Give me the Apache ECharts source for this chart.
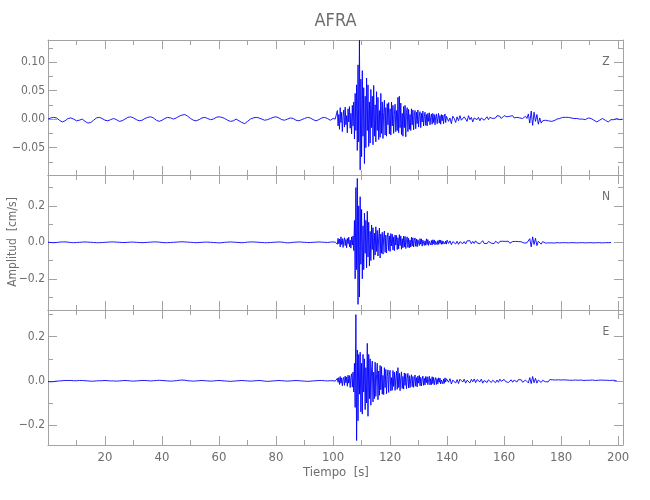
<!DOCTYPE html>
<html><head><meta charset="utf-8">
<script src="https://cdn.jsdelivr.net/npm/echarts@6/dist/echarts.min.js"></script>
<style>html,body{margin:0;padding:0;background:#fff}#c{width:650px;height:500px}</style>
</head><body><div id="c"></div>
<script>
// ---- data ----
const stationName = 'AFRA';
const componentNames = ['Z', 'N', 'E'];
const xAxisTitle = 'Tiempo  [s]';
const yAxisTitle = 'Amplitud  [cm/s]';
const timeMin = 0, timeMax = 201.7;
// each trace = three sampled segments: quiet (0-99 s, 1 s), strong (100-139.75 s, 0.25 s), tail (140 s on, 0.5 s)
const segmentStart = [0, 100, 140];
const segmentStep = [1, 0.25, 0.5];

const zQuiet = [
0,.002,.003,.002,-.002,-.005,-.003,.001,.002,0,
-.003,-.002,0,-.004,-.007,-.006,-.002,.002,.003,.001,
-.002,-.003,-.001,.001,-.001,-.004,-.003,0,.003,.004,
.002,-.001,-.003,-.002,.001,.003,.004,.002,-.002,-.004,
-.002,.001,.003,.002,0,.002,.005,.007,.008,.005,
.001,-.002,-.003,-.001,.002,.003,.001,-.001,0,.003,
.004,.003,.001,-.002,-.004,-.003,0,-.003,-.006,-.008,
-.004,0,.002,.003,.002,0,-.002,-.001,.001,.003,
.004,.002,-.001,-.002,0,.002,.001,-.002,-.003,-.001,
.001,.003,.002,-.001,-.003,-.001,.002,.003,.001,-.002];
const zStrong = [
.001,-.001,.002,0,.003,-.002,.015,-.012,.008,-.018,
.020,-.006,.012,-.022,.004,.016,-.014,.021,-.010,.006,
-.024,.018,-.005,.022,-.016,.010,-.026,.024,-.012,.030,
-.035,.045,-.020,.060,-.055,.095,-.040,.138,-.089,.070,
-.066,.085,-.030,.055,-.078,.040,-.050,.072,-.020,.060,
-.048,.030,-.042,.052,-.015,.040,-.045,.059,-.030,.025,
-.040,.048,-.020,.038,-.036,.015,-.032,.045,-.025,.030,
-.034,.012,.033,-.028,.020,-.030,.027,-.010,.029,-.026,
.018,-.028,.030,-.012,.024,-.025,.008,.026,-.022,.015,
-.020,.038,-.024,.040,-.015,.028,-.027,.010,-.030,.022,
-.015,.024,-.031,.012,.020,-.022,.017,-.018,.008,-.020,
.018,-.010,.016,-.019,.006,.015,-.017,.012,-.008,.016,
-.014,.006,.013,-.015,.010,-.005,.014,-.012,.004,.012,
-.011,.008,-.012,.010,-.004,.011,-.010,.003,.009,-.009,
.010,-.006,.008,-.010,.004,.009,-.008,.002,.010,-.007,
.006,-.009,.008,-.003,.007,-.008,.004,.009,-.006,.005];
const zTail = [
.007,-.004,.002,-.008,.005,.001,-.006,.004,-.003,.006,
-.002,-.005,.004,.001,-.004,.006,-.001,.003,-.005,.002,
.004,-.001,.003,-.003,.002,.005,-.002,.001,.004,-.001,
.003,.006,.001,.004,.002,.006,.003,.005,.001,.004,
.006,.003,.004,.001,.005,.003,.006,.002,.004,.003,
.004,.002,.005,.001,.003,.005,.001,.009,-.007,.014,
-.011,.012,-.004,.008,-.009,.002,-.007,-.003,-.005,-.002,
-.004,-.003,-.001,-.004,-.002,-.003,-.001,0,-.002,.001,
.002,.003,.004,.003,.002,.003,.001,.002,0,.001,
.002,.001,.002,0,-.001,0,-.002,-.001,.001,.002,
.003,.001,-.001,-.002,-.003,-.005,-.004,-.002,0,.001,
0,-.002,-.004,-.005,-.003,-.001,0,-.001,0,.001,
0,-.001,0,0];

const nQuiet = [
0,-.001,-.002,-.001,.001,.002,.002,.001,-.001,-.002,
-.001,0,.001,.002,.001,0,-.001,-.002,-.002,-.001,
0,.001,.002,.002,.001,0,-.001,-.001,0,.001,
.001,0,-.001,-.002,-.001,0,.001,.002,.002,.001,
-.001,-.002,-.002,-.001,0,.001,.002,.003,.002,.001,
0,-.001,-.002,-.001,0,.001,.001,0,-.001,-.002,
-.003,-.002,0,.001,.002,.001,0,-.001,-.002,-.001,
.001,.002,.002,.001,0,-.001,-.002,-.002,-.001,0,
.001,.002,.001,-.001,-.003,-.002,0,.001,.002,.001,
0,-.001,-.001,0,.001,.002,.001,0,-.001,.001];
const nStrong = [
.002,-.002,.003,.001,-.004,.006,-.010,.022,-.008,.018,
-.025,.030,-.012,.020,-.028,.010,.025,-.018,.015,-.030,
.022,-.008,.028,-.024,.012,-.032,.030,-.015,.035,-.045,
.120,-.200,.300,-.150,.350,-.340,.200,-.300,.250,-.120,
.180,-.200,.090,-.150,.160,-.060,.120,-.140,.170,-.080,
.110,-.130,.060,-.100,.095,-.040,.080,-.095,.050,-.070,
.085,-.050,.065,-.075,.030,.078,-.086,.045,-.060,.055,
-.065,.030,.062,-.055,.040,-.058,.025,.052,-.045,.035,
-.050,.048,-.020,.045,-.042,.030,-.046,.040,-.015,.038,
-.040,.025,-.036,.042,-.018,.035,-.038,.020,-.030,.034,
-.025,.032,-.034,.015,.030,-.028,.022,-.030,.012,-.026,
.028,-.020,.025,-.026,.010,.024,-.022,.018,-.024,.014,
.022,-.018,.020,-.010,.019,-.021,.012,.018,-.017,.008,
-.016,.019,-.012,.015,-.017,.006,.016,-.014,.010,-.015,
.014,-.008,.013,-.014,.005,.012,-.013,.009,-.011,.013,
-.006,.012,-.011,.008,-.010,.004,.011,-.009,.007,-.010];
const nTail = [
.012,-.006,.008,-.013,.004,.010,-.009,.006,-.011,.003,
.010,-.007,.004,-.009,.008,-.002,.009,-.008,.005,-.006,
.008,-.003,.007,-.008,.002,.009,-.006,.004,-.007,.005,
.006,-.005,.002,-.007,.006,.001,-.006,.005,-.003,.006,
-.004,.005,-.002,.006,-.005,.001,.004,-.004,.005,-.002,
.004,-.004,.003,.001,-.004,.005,-.003,-.008,.020,-.025,
.030,-.012,.022,-.018,.006,.012,-.010,.004,.005,-.004,
.004,-.003,.004,-.003,.003,-.004,.003,-.002,.003,-.003,
.003,-.002,.003,-.002,.002,-.003,.002,-.002,.003,-.002,
.002,-.003,.002,-.002,.003,-.002,.002,-.003,.002,-.002,
.003,-.002,.002,-.003,.002,-.002,.003,-.002,.002,-.003,
.002,-.002,.003,-.002,.002,-.001];

const eQuiet = [
-.003,-.004,-.003,-.001,0,.001,.002,.002,.002,.001,
.001,.002,.002,.001,0,-.001,-.001,0,.001,.001,
.002,.001,0,0,-.001,0,.001,.002,.001,0,
-.001,0,.001,.002,.002,.001,0,.001,.002,.003,
.002,.001,0,-.001,0,.001,.003,.004,.003,.001,
0,-.001,0,.001,.002,.001,0,-.001,0,.001,
.002,.001,0,-.001,-.002,-.001,0,.001,.002,.001,
0,-.001,0,.001,.002,.001,-.001,-.002,-.001,0,
.001,.002,.001,0,-.001,0,.001,.002,.001,0,
-.001,-.002,-.001,0,.001,.002,.002,.001,0,.001];
const eStrong = [
.001,-.002,.003,-.001,.002,-.005,.012,-.006,.015,-.016,
.020,-.010,.014,-.022,.006,.016,-.020,.022,-.008,.018,
-.024,.026,-.010,.024,-.030,.015,.032,-.028,.040,-.050,
.080,-.120,.300,-.270,.140,-.180,.120,-.060,.130,-.140,
.080,-.150,.120,-.050,.100,-.130,.060,-.100,.170,-.160,
.120,-.080,.100,-.110,.050,.090,-.095,.040,-.080,.085,
-.070,.030,.080,-.085,.045,-.065,.070,-.040,.065,-.060,
.025,-.062,.060,-.030,.052,-.058,.020,.050,-.052,.030,
.048,-.045,.015,-.042,.047,-.025,.040,-.043,.012,.044,
-.038,.060,-.030,.035,-.044,.015,.041,-.034,.020,-.037,
.036,-.020,.033,-.035,.012,.034,-.032,.024,-.030,.010,
.028,-.026,.020,-.029,.008,.027,-.024,.015,-.027,.022,
-.010,.025,-.022,.016,-.023,.008,.022,-.020,.012,-.018,
.020,-.008,.019,-.017,.006,.021,-.018,.010,-.017,.019,
-.012,.016,-.018,.005,.015,-.016,.010,-.013,.014,-.006,
.013,-.014,.004,.012,-.013,.009,-.011,.014,-.005,.010];
const eTail = [
.013,-.006,.010,-.014,.004,.012,-.010,.006,-.012,.008,
.011,-.005,.008,-.010,.003,.011,-.009,.007,-.004,.009,
-.008,.006,.010,-.004,.008,-.010,.002,.011,-.007,.005,
.008,-.007,.003,.009,-.008,.004,-.006,.008,-.002,-.007,
.007,-.003,.006,-.007,.002,.005,-.006,.004,.006,-.005,
.006,-.002,.005,-.006,.003,.004,-.005,-.009,.015,-.012,
.020,-.008,.012,-.010,.004,.007,-.007,.003,.006,-.004,
.005,-.004,.006,-.003,.005,-.004,.004,-.003,.005,-.003,
.004,-.002,.005,-.003,.004,-.002,.003,-.004,.003,-.002,
.004,-.003,.003,-.002,.004,-.003,.002,-.003,.003,-.002,
.003,-.002,.004,-.003,.002,-.003,.003,-.002,.004,-.002,
.003,-.002,.003,-.001,.002,-.002,.003,-.001,.002,0];

// axis ranges per panel (Z, N, E) and label steps
const yMins = [-0.098, -0.371, -0.29];
const yMaxs = [0.1386, 0.369, 0.321];
const ySplitNumbers = [5, 4, 3];
const yLabelSteps = [0.05, 0.2, 0.2];
const yLabelDecimals = [2, 1, 1];
const xLabelStep = 20;

// ---- build ----
function buildTrace(parts) {
  const out = [];
  parts.forEach((vals, k) => {
    vals.forEach((v, i) => out.push([+(segmentStart[k] + i * segmentStep[k]).toFixed(3), v]));
  });
  return out;
}
const traces = [
  buildTrace([zQuiet, zStrong, zTail]),
  buildTrace([nQuiet, nStrong, nTail]),
  buildTrace([eQuiet, eStrong, eTail])
];

const FONT = "'Liberation Sans Narrow','DejaVu Sans Condensed',sans-serif";
const AXIS_COLOR = '#a3a3a3';
const TEXT_COLOR = '#6e6e6e';
const tops = [40, 175, 310];
const panelH = 135;

function isMultiple(v, step) { const r = v / step; return Math.abs(r - Math.round(r)) < 1e-6; }

const grids = [], xAxes = [], yAxes = [], series = [];
for (let k = 0; k < 3; k++) {
  grids.push({ left: 48, right: 27, top: tops[k], height: panelH });
  const tick = { show: true, inside: true, length: 9, lineStyle: { color: AXIS_COLOR, width: 1 } };
  const minor = { show: true, splitNumber: 2, length: 5, lineStyle: { color: AXIS_COLOR, width: 1 } };
  const line = { show: true, onZero: false, lineStyle: { color: AXIS_COLOR, width: 1 } };
  const xCommon = {
    type: 'value', gridIndex: k, min: timeMin, max: timeMax, interval: xLabelStep,
    axisLine: line, axisTick: tick, minorTick: minor,
    splitLine: { show: false }, minorSplitLine: { show: false }
  };
  xAxes.push(Object.assign({}, xCommon, {
    position: 'bottom',
    axisLabel: {
      show: k === 2, color: TEXT_COLOR, fontSize: 13, fontFamily: FONT, margin: 6,
      formatter: v => (v > 0 && isMultiple(v, xLabelStep)) ? String(Math.round(v)) : ''
    }
  }));
  xAxes.push(Object.assign({}, xCommon, { position: 'top', axisLabel: { show: false } }));
  const yCommon = {
    type: 'value', gridIndex: k, min: yMins[k], max: yMaxs[k], splitNumber: ySplitNumbers[k],
    axisLine: line, axisTick: tick, minorTick: minor,
    splitLine: { show: false }, minorSplitLine: { show: false }
  };
  const step = yLabelSteps[k], dec = yLabelDecimals[k];
  yAxes.push(Object.assign({}, yCommon, {
    position: 'left',
    axisLabel: {
      color: TEXT_COLOR, fontSize: 12, fontFamily: FONT, margin: 3,
      formatter: v => isMultiple(v, step) ? (Math.abs(v) < 1e-9 ? 0 : v).toFixed(dec).replace('-', '\u2212') : ''
    }
  }));
  yAxes.push(Object.assign({}, yCommon, { position: 'right', axisLabel: { show: false } }));
  series.push({
    type: 'line', name: componentNames[k], xAxisIndex: 2 * k, yAxisIndex: 2 * k,
    data: traces[k], showSymbol: false, symbol: 'none',
    lineStyle: { color: '#0000ff', width: 0.9 }, clip: true
  });
}

const textStyle = (txt, size) => ({ text: txt, fill: TEXT_COLOR, fontSize: size, fontFamily: FONT, align: 'center', verticalAlign: 'middle' });
const graphic = [
  { type: 'text', x: 335.5, y: 21, style: textStyle(stationName, 18) },
  { type: 'text', x: 13, y: 242, rotation: Math.PI / 2, style: textStyle(yAxisTitle, 12) },
  { type: 'text', x: 336, y: 473, style: textStyle(xAxisTitle, 13) }
];
componentNames.forEach((c, k) => {
  graphic.push({ type: 'text', x: 606, y: tops[k] + 22, style: textStyle(c, 12) });
});

const chart = echarts.init(document.getElementById('c'));
chart.setOption({
  animation: false,
  backgroundColor: '#ffffff',
  grid: grids, xAxis: xAxes, yAxis: yAxes, series: series,
  graphic: graphic
});
</script></body></html>
